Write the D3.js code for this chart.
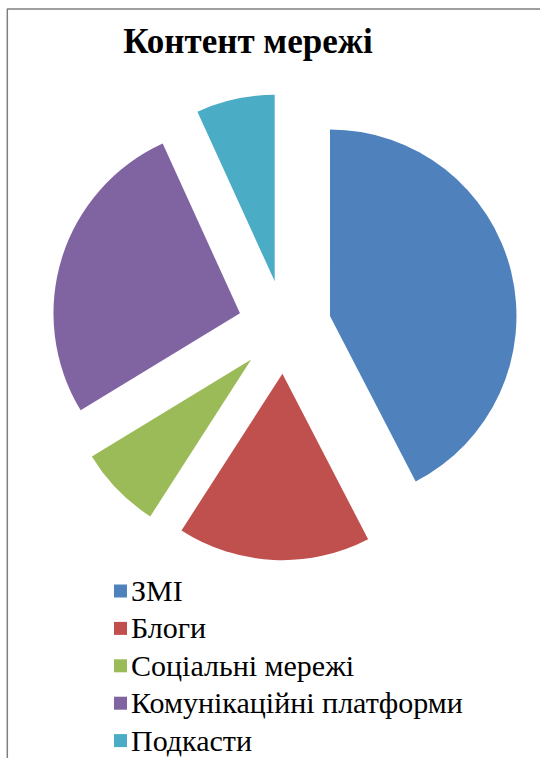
<!DOCTYPE html>
<html>
<head>
<meta charset="utf-8">
<script src="https://cdn.jsdelivr.net/npm/d3@7"></script>
<style>
  body { margin: 0; background: #fff; }
  svg { display: block; }
</style>
</head>
<body>
<script>
var w = 540;
var h = 758;

// Chart data
var categories = ["ЗМІ", "Блоги", "Соціальні мережі", "Комунікаційні платформи", "Подкасти"];
var shares = [42.4, 16.7, 7.2, 26.9, 6.8];
var colors = ["#4F81BD", "#C0504D", "#9BBB59", "#8064A2", "#4BACC6"];
var chartTitle = "Контент мережі";

var cx = 284.6, cy = 327;
var radius = 186.5;
var explode = 46.7; // distance each slice is pulled out

var svg = d3.select("body")
            .append("svg")
            .attr("width", w)
            .attr("height", h);

// frame (only top and left edges are visible in the crop)
svg.append("line")
   .attr("x1", 7).attr("y1", 9).attr("x2", w).attr("y2", 9)
   .attr("stroke", "#7f7f7f").attr("stroke-width", 1.5);
svg.append("line")
   .attr("x1", 7.3).attr("y1", 9).attr("x2", 7.3).attr("y2", h)
   .attr("stroke", "#7f7f7f").attr("stroke-width", 1.5);

// title
svg.append("text")
   .attr("x", 248)
   .attr("y", 53)
   .attr("text-anchor", "middle")
   .attr("font-family", "Liberation Serif")
   .attr("font-weight", "bold")
   .attr("font-size", 35)
   .attr("fill", "#000")
   .text(chartTitle);

var pie = d3.pie()
            .sort(null)
            .value(function(d) { return d; });

var arcs = pie(shares);

var arc = d3.arc()
            .innerRadius(0)
            .outerRadius(radius);

var g = svg.append("g")
           .attr("transform", "translate(" + cx + "," + cy + ")");

g.selectAll("path")
 .data(arcs)
 .enter()
 .append("path")
 .attr("d", arc)
 .attr("fill", function(d, i) { return colors[i]; })
 .attr("transform", function(d) {
     var mid = (d.startAngle + d.endAngle) / 2;
     return "translate(" + (Math.sin(mid) * explode) + "," + (-Math.cos(mid) * explode) + ")";
 });

// legend
var legend = svg.selectAll(".legend")
                .data(categories)
                .enter()
                .append("g")
                .attr("class", "legend")
                .attr("transform", function(d, i) {
                    return "translate(114," + (591 + i * 37.4) + ")";
                });

legend.append("rect")
      .attr("x", 0)
      .attr("y", -6.5)
      .attr("width", 13)
      .attr("height", 13)
      .attr("fill", function(d, i) { return colors[i]; });

legend.append("text")
      .attr("x", 17)
      .attr("y", 10)
      .attr("font-family", "Liberation Serif")
      .attr("font-size", 30)
      .attr("fill", "#000")
      .text(function(d) { return d; });
</script>
</body>
</html>
